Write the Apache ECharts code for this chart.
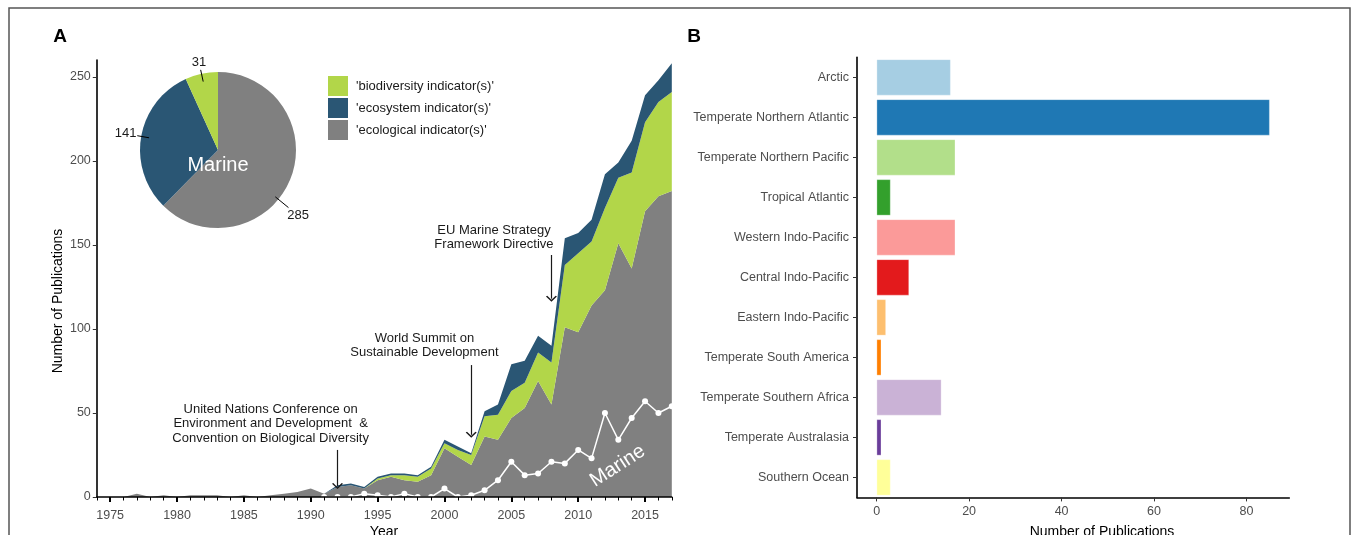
<!DOCTYPE html>
<html><head><meta charset="utf-8">
<script src="https://cdn.jsdelivr.net/npm/echarts@6/dist/echarts.min.js"></script>
<style>html,body{margin:0;padding:0;background:#fff}#c{width:1357px;height:535px}</style>
</head><body><div id="c"></div>
<script>
// ---------- DATA ----------
const years = [1974,1975,1976,1977,1978,1979,1980,1981,1982,1983,1984,1985,1986,1987,1988,1989,1990,1991,
  1992,1993,1994,1995,1996,1997,1998,1999,2000,2001,2002,2003,2004,2005,2006,2007,2008,2009,2010,2011,2012,2013,2014,2015,2016,2017];
const ecological = [0,0,0,2,0,1,0,1,1,1,0,1,0,1,2,3,5,2,
  6,7,5,10,12,10,9,13,29,24,19,36,34,47,53,69,55,101,98,114,123,151,136,170,179,182];
const biodiversity = [0,0,0,0,0,0,0,0,0,0,0,0,0,0,0,0,0,0,
  0,0,0,1,1,3,3,4,3,4,6,12,15,16,15,17,25,37,47,38,49,39,57,53,56,59];
const ecosystem = [0,0,0,0,0,0,0,0,0,0,0,0,0,0,0,0,0,0,
  1,1,1,1,1,1,1,1,2,2,1,3,6,16,13,10,10,16,12,13,20,9,19,16,13,17];
const marineYears = [1991,1992,1993,1994,1995,1996,1997,1998,1999,2000,2001,2002,2003,2004,2005,2006,2007,2008,2009,2010,2011,2012,2013,2014,2015,2016,2017];
const marine = [0,0,0,2,1,0,2,0,0,5,0,1,4,10,21,13,14,21,20,28,23,50,34,47,57,50,54];
const seriesNames = ["'ecological indicator(s)'", "'biodiversity indicator(s)'", "'ecosystem indicator(s)'"];
const legendOrder = ["'biodiversity indicator(s)'", "'ecosystem indicator(s)'", "'ecological indicator(s)'"];
const pieNames = ["'ecological indicator(s)'", "'ecosystem indicator(s)'", "'biodiversity indicator(s)'"];
const pieValues = [285, 141, 31];
const yearTickLabels = [1975,1980,1985,1990,1995,2000,2005,2010,2015];
const yTicksA = [0,50,100,150,200,250];
const regions = ['Arctic','Temperate Northern Atlantic','Temperate Northern Pacific','Tropical Atlantic',
  'Western Indo-Pacific','Central Indo-Pacific','Eastern Indo-Pacific','Temperate South America',
  'Temperate Southern Africa','Temperate Australasia','Southern Ocean'];
const regionCounts = [16,85,17,3,17,7,2,1,14,1,3];
const xTicksB = [0,20,40,60,80];
const annotations = [
  {text:'United Nations Conference on\nEnvironment and Development  &\nConvention on Biological Diversity', year:1987, value:43.6},
  {text:'World Summit on\nSustainable Development', year:1998.5, value:90},
  {text:'EU Marine Strategy\nFramework Directive', year:2003.7, value:154.5}
];
const arrows = [
  {year:1992, from:28, to:6.5},
  {year:2002, from:78.5, to:37},
  {year:2008, from:144, to:118}
];
const marineLabel = {text:'Marine', year:2012.95, value:18.4};

// ---------- STYLE ----------
const FONT = 'Liberation Sans, Arial, Helvetica, sans-serif';
const colA = {"'ecological indicator(s)'":'#808080', "'biodiversity indicator(s)'":'#b2d649', "'ecosystem indicator(s)'":'#2a5674'};
const colB = ['#A6CEE3','#1F78B4','#B2DF8A','#33A02C','#FB9A99','#E31A1C','#FDBF6F','#FF7F00','#CAB2D6','#6A3D9A','#FFFF99'];
const PIE_C = [218, 150], PIE_R = 78;
const chevron = 'path://M6,0 L12,7 L10.6,8 L6,2.6 L1.4,8 L0,7 Z';

const chart = echarts.init(document.getElementById('c'), null, {renderer:'canvas'});

const valuesByName = {};
valuesByName[seriesNames[0]] = ecological;
valuesByName[seriesNames[1]] = biodiversity;
valuesByName[seriesNames[2]] = ecosystem;

const stackSeries = seriesNames.map((nm) => ({
  name: nm, type:'line', stack:'A', xAxisIndex:0, yAxisIndex:0,
  data: valuesByName[nm],
  color: colA[nm], symbol:'none', showSymbol:false,
  lineStyle:{width:0}, areaStyle:{color:colA[nm], opacity:1}, z:2, silent:true
}));

function pieLabelLayout(p) {
  const i = p.dataIndex;
  const total = pieValues.reduce((a,b)=>a+b,0);
  let start = 0; for (let k=0;k<i;k++) start += pieValues[k];
  let ang = (start + pieValues[i]/2)/total*360;
  if (i === 0) ang += 17;
  const rad = ang*Math.PI/180, dx = Math.sin(rad), dy = -Math.cos(rad);
  const cx = PIE_C[0], cy = PIE_C[1], r = PIE_R;
  const inner = i === 0 ? r - 4 : r - 8;
  const outer = i === 0 ? r + 13 : r + 4;
  const w = p.labelRect.width/2, h = p.labelRect.height/2;
  const d = outer + w*Math.abs(dx) + h*Math.abs(dy);
  return {
    x: cx + d*dx, y: cy + d*dy, align:'center', verticalAlign:'middle',
    labelLinePoints:[[cx+inner*dx, cy+inner*dy],[cx+outer*dx, cy+outer*dy],[cx+outer*dx, cy+outer*dy]]
  };
}

const option = {
  animation:false,
  textStyle:{fontFamily:FONT},
  grid:[
    {left:96.8, top:60, width:575, height:437, outerBoundsMode:'none'},
    {left:857, top:57.4, width:432.3, height:440, outerBoundsMode:'none'}
  ],
  legend:{
    data:legendOrder, orient:'vertical', left:328, top:76, padding:0,
    itemWidth:20, itemHeight:20, itemGap:2, icon:'rect', selectedMode:false,
    textStyle:{fontSize:13, color:'#1a1a1a', fontFamily:FONT, padding:[0,0,0,3]}
  },
  xAxis:[
    {gridIndex:0, type:'category', data:years, boundaryGap:false, position:'bottom', z:5,
     axisLine:{show:true, lineStyle:{color:'#000', width:1.6}},
     axisTick:{show:true, interval:0, length:3.5, lineStyle:{color:'#000', width:1}},
     axisLabel:{interval:(idx, val) => yearTickLabels.indexOf(Number(val)) >= 0,
       color:'#4d4d4d', fontSize:12.5, margin:12, fontFamily:FONT},
     splitLine:{show:false}},
    {gridIndex:0, type:'value', min:1974, max:2017, position:'bottom', z:5,
     axisLine:{show:false},
     axisTick:{show:true, customValues:yearTickLabels, length:5, lineStyle:{color:'#000', width:2}},
     axisLabel:{show:false}, splitLine:{show:false}},
    {gridIndex:1, type:'value', min:-4.25, max:89.25,
     axisLine:{show:true, lineStyle:{color:'#000', width:1.6}},
     axisTick:{show:true, customValues:xTicksB, length:4, lineStyle:{color:'#333', width:1}},
     axisLabel:{customValues:xTicksB, color:'#4d4d4d', fontSize:12.5, margin:8, fontFamily:FONT},
     splitLine:{show:false}}
  ],
  yAxis:[
    {gridIndex:0, type:'value', min:0, max:260, interval:50,
     axisLine:{show:true, lineStyle:{color:'#000', width:1.6}},
     axisTick:{show:true, customValues:yTicksA, length:4, lineStyle:{color:'#333', width:1}},
     axisLabel:{customValues:yTicksA, color:'#4d4d4d', fontSize:12.5, margin:6, fontFamily:FONT},
     splitLine:{show:false}},
    {gridIndex:1, type:'category', data:regions, inverse:true,
     axisLine:{show:true, onZero:false, lineStyle:{color:'#000', width:1.6}},
     axisTick:{show:true, alignWithLabel:true, length:4, lineStyle:{color:'#333', width:1}},
     axisLabel:{color:'#4d4d4d', fontSize:12.5, margin:8, fontFamily:FONT},
     splitLine:{show:false}}
  ],
  series:[
    ...stackSeries,
    {
      name:'Marine', type:'line', xAxisIndex:1, yAxisIndex:0, z:4, silent:true,
      data: marineYears.map((y,i)=>[y, marine[i]]),
      symbol:'circle', symbolSize:6, showSymbol:true,
      lineStyle:{color:'#ffffff', width:1.5}, itemStyle:{color:'#ffffff', borderWidth:0},
      markLine:{
        silent:true, symbol:['none', chevron], symbolSize:[11,6],
        lineStyle:{color:'#1a1a1a', width:1.2, type:'solid'},
        label:{show:false},
        data: arrows.map(a => [{coord:[a.year, a.from]}, {coord:[a.year, a.to]}])
      },
      markPoint:{
        silent:true, symbol:'circle', symbolSize:0,
        data: annotations.map(a => ({
          name:a.text, coord:[a.year, a.value],
          label:{show:true, position:'inside', formatter:a.text, color:'#1a1a1a', fontSize:13, lineHeight:14.3, align:'center', fontFamily:FONT}
        })).concat([{
          name:marineLabel.text, coord:[marineLabel.year, marineLabel.value],
          label:{show:true, position:'inside', formatter:marineLabel.text, color:'#ffffff', fontSize:20, rotate:33, fontFamily:FONT}
        }])
      }
    },
    {
      type:'pie', center:PIE_C, radius:PIE_R, startAngle:90, clockwise:true, silent:true, z:3,
      data: pieNames.map((n,i)=>({name:n, value:pieValues[i], itemStyle:{color:colA[n]}})),
      itemStyle:{borderWidth:0},
      label:{show:false}, labelLine:{show:false}
    },
    {
      type:'pie', center:PIE_C, radius:PIE_R, startAngle:90, clockwise:true, silent:true, z:6,
      data: pieNames.map((n,i)=>({name:n, value:pieValues[i], itemStyle:{color:'rgba(0,0,0,0)'}})),
      itemStyle:{borderWidth:0},
      label:{show:true, position:'outside', formatter:'{c}', color:'#1a1a1a', fontSize:13, fontFamily:FONT},
      labelLine:{show:true, length:8, length2:0, lineStyle:{color:'#000', width:1, opacity:1}},
      labelLayout: pieLabelLayout
    },
    {
      type:'bar', xAxisIndex:2, yAxisIndex:1, barCategoryGap:'10%', silent:true,
      data: regionCounts.map((v,i)=>({value:v, itemStyle:{color:colB[i], borderColor:'rgba(255,255,255,0.6)', borderWidth:0.5}}))
    }
  ],
  graphic:[
    {type:'rect', silent:true, z:-10, shape:{x:9, y:8, width:1341, height:560}, style:{fill:'none', stroke:'#555', lineWidth:1.5}},
    {type:'text', silent:true, z:100, x:60, y:37, style:{text:'A', fill:'#000', font:'bold 19px '+FONT, align:'center', verticalAlign:'middle', textAlign:'center', textVerticalAlign:'middle'}},
    {type:'text', silent:true, z:100, x:694, y:37, style:{text:'B', fill:'#000', font:'bold 19px '+FONT, align:'center', verticalAlign:'middle', textAlign:'center', textVerticalAlign:'middle'}},
    {type:'text', silent:true, z:100, x:218, y:165, style:{text:'Marine', fill:'#fff', font:'20px '+FONT, align:'center', verticalAlign:'middle', textAlign:'center', textVerticalAlign:'middle'}},
    {type:'text', silent:true, z:100, x:58.3, y:301, rotation:Math.PI/2, style:{text:'Number of Publications', fill:'#000', font:'14px '+FONT, align:'center', verticalAlign:'middle', textAlign:'center', textVerticalAlign:'middle'}},
    {type:'text', silent:true, z:100, x:384, y:532, style:{text:'Year', fill:'#000', font:'14px '+FONT, align:'center', verticalAlign:'middle', textAlign:'center', textVerticalAlign:'middle'}},
    {type:'text', silent:true, z:100, x:1102, y:532, style:{text:'Number of Publications', fill:'#000', font:'14px '+FONT, align:'center', verticalAlign:'middle', textAlign:'center', textVerticalAlign:'middle'}}
  ]
};
chart.setOption(option);
</script></body></html>
